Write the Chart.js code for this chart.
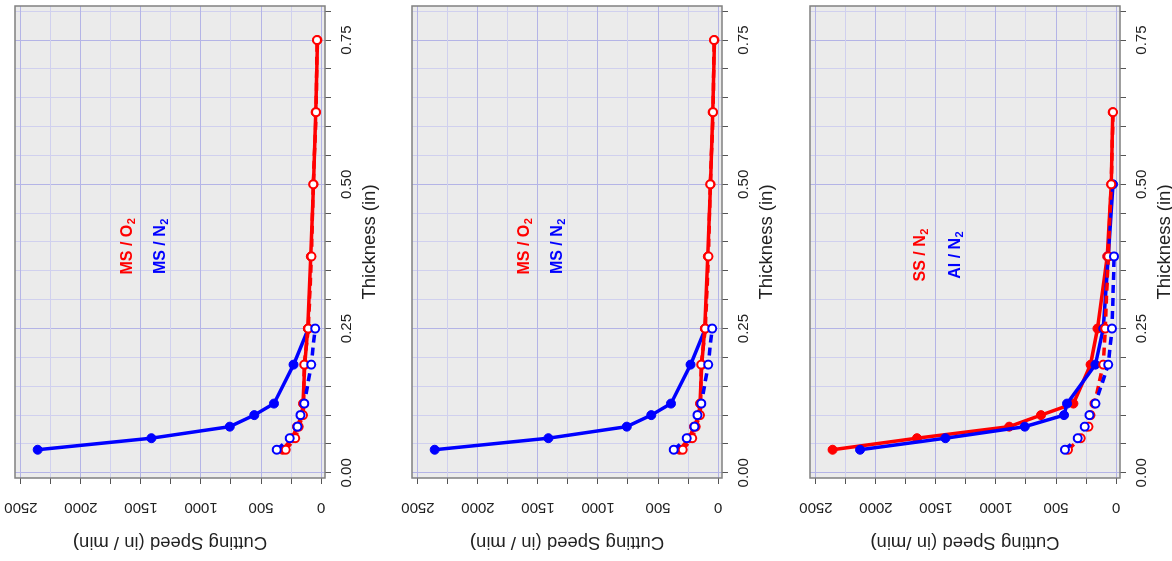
<!DOCTYPE html>
<html>
<head>
<meta charset="utf-8">
<script src="https://cdn.jsdelivr.net/npm/chart.js@4.4.0/dist/chart.umd.min.js"></script>
<style>
  html, body { margin: 0; padding: 0; background: #fff; width: 1172px; height: 561px; overflow: hidden; }
  canvas { position: absolute; left: 0; top: 0; transform-origin: 0 0; }
</style>
</head>
<body>
<canvas id="panel1" width="561" height="397" style="transform: translate(0px, 561px) rotate(-90deg);"></canvas>
<canvas id="panel2" width="561" height="397" style="transform: translate(397px, 561px) rotate(-90deg);"></canvas>
<canvas id="panel3" width="561" height="397" style="transform: translate(795px, 561px) rotate(-90deg);"></canvas>
<script>
// sheet thickness (in)
const thickness = [0.04, 0.06, 0.08, 0.10, 0.12, 0.1875, 0.25, 0.375, 0.5, 0.625, 0.75];

// mild steel (panels 1 and 2), cutting speed in / min
const msN2Fast = [2360, 1413, 760, 556, 392, 229, 106];
const msN2Slow = [368, 261, 196, 172, 139, 82, 49];
const msO2Fast = [320, 240, 200, 160, 150, 135, 110, 85, 62, 45, 30];
const msO2Slow = [294, 215, 185, 150, 145, 140, 106, 80, 65, 41, 33];

// stainless / aluminium (panel 3)
const ssN2Fast = [2361, 1658, 890, 625, 355, 212, 155, 74, 40, 28];
const ssN2Slow = [400, 294, 229, 212, 180, 106, 90, 65, 40, 25];
const alN2Fast = [2132, 1421, 760, 433, 408, 172, 106, 65, 25];
const alN2Slow = [425, 319, 261, 221, 172, 65, 33, 16];

const RED = "#ff0000";
const BLUE = "#0000ff";

Chart.defaults.font.family = '"Liberation Sans", Arial, sans-serif';
Chart.defaults.color = "#222";

function toPoints(values) {
  return values.map((v, i) => ({ x: thickness[i], y: v }));
}

function solidSet(values, color) {
  return {
    data: toPoints(values),
    borderColor: color,
    backgroundColor: color,
    borderWidth: 3.5,
    pointRadius: 4.5,
    pointBackgroundColor: color,
    pointBorderColor: color,
    pointBorderWidth: 1,
    tension: 0,
  };
}

function dashedSet(values, color) {
  return {
    data: toPoints(values),
    borderColor: color,
    backgroundColor: "#fff",
    borderWidth: 3.5,
    borderDash: [8, 5],
    pointRadius: 4,
    pointBackgroundColor: "#fff",
    pointBorderColor: color,
    pointBorderWidth: 2,
    tension: 0,
  };
}

function isMultiple(v, step) {
  const r = v / step;
  return Math.abs(r - Math.round(r)) < 1e-6;
}

// grey plot region, frame and the two coloured labels
const plotFrame = {
  id: "plotFrame",
  beforeDraw(chart) {
    const { ctx, chartArea: a } = chart;
    ctx.save();
    ctx.fillStyle = "#ebebeb";
    ctx.fillRect(a.left, a.top, a.width, a.height);
    ctx.restore();
  },
  afterDatasetsDraw(chart, args, opts) {
    const { ctx, chartArea: a, scales } = chart;
    ctx.save();
    ctx.strokeStyle = "#808080";
    ctx.lineWidth = 1.5;
    ctx.strokeRect(a.left, a.top, a.width, a.height);
    (opts.labels || []).forEach((lab) => {
      const big = "bold 16px 'Liberation Sans', Arial, sans-serif";
      const small = "bold 11px 'Liberation Sans', Arial, sans-serif";
      ctx.font = big;
      const w1 = ctx.measureText(lab.text).width;
      ctx.font = small;
      const w2 = ctx.measureText(lab.sub).width;
      const cx = scales.x.getPixelForValue(lab.x);
      const cy = scales.y.getPixelForValue(lab.y);
      const x0 = cx - (w1 + w2) / 2;
      ctx.fillStyle = lab.color;
      ctx.textBaseline = "alphabetic";
      ctx.textAlign = "left";
      ctx.font = big;
      ctx.fillText(lab.text, x0, cy + 6);
      ctx.font = small;
      ctx.fillText(lab.sub, x0 + w1 + 0.5, cy + 9);
    });
    ctx.restore();
  },
};

function buildPanel(id, datasets, labels, yTitle) {
  const ctx = document.getElementById(id).getContext("2d");
  return new Chart(ctx, {
    type: "line",
    data: { datasets: datasets },
    options: {
      responsive: false,
      maintainAspectRatio: false,
      animation: false,
      layout: { padding: { top: 9, right: 3, left: 0, bottom: 0 } },
      plugins: {
        legend: { display: false },
        tooltip: { enabled: false },
        plotFrame: { labels: labels },
      },
      scales: {
        x: {
          type: "linear",
          position: "bottom",
          min: -0.009,
          max: 0.809,
          afterFit: (scale) => { scale.height = 72; },
          ticks: {
            stepSize: 0.05,
            includeBounds: false,
            autoSkip: false,
            minRotation: 0,
            maxRotation: 0,
            padding: 7,
            font: { size: 15 },
            callback: (v) => (isMultiple(v, 0.25) ? v.toFixed(2) : ""),
          },
          grid: {
            color: (c) => (c.tick && isMultiple(c.tick.value, 0.25) ? "#b4b4e6" : "#d0d0ee"),
            lineWidth: 1,
            tickLength: 6,
            tickColor: "#555",
          },
          border: { display: false },
          title: {
            display: true,
            text: "Thickness (in)",
            font: { size: 18.5 },
            padding: { top: 0, bottom: 16 },
          },
        },
        y: {
          type: "linear",
          position: "left",
          min: -33,
          max: 2549,
          afterFit: (scale) => { scale.width = 83; },
          ticks: {
            stepSize: 250,
            includeBounds: false,
            autoSkip: false,
            minRotation: 90,
            maxRotation: 90,
            crossAlign: "center",
            padding: 6,
            font: { size: 15 },
            callback: (v) => (isMultiple(v, 500) ? String(v) : ""),
          },
          grid: {
            color: (c) => (c.tick && isMultiple(c.tick.value, 500) ? "#b4b4e6" : "#d0d0ee"),
            lineWidth: 1,
            tickLength: 6,
            tickColor: "#555",
          },
          border: { display: false },
          title: {
            display: true,
            text: yTitle,
            font: { size: 18.5 },
            padding: { top: 8, bottom: 0 },
          },
        },
      },
    },
    plugins: [plotFrame],
  });
}

const msLabels = [
  { text: "MS / O", sub: "2", color: RED, x: 0.392, y: 1626 },
  { text: "MS / N", sub: "2", color: BLUE, x: 0.392, y: 1348 },
];

// first dataset is drawn on top
buildPanel("panel1", [
  dashedSet(msN2Slow, BLUE),
  dashedSet(msO2Slow, RED),
  solidSet(msO2Fast, RED),
  solidSet(msN2Fast, BLUE),
], msLabels, "Cutting Speed (in / min)");

buildPanel("panel2", [
  dashedSet(msN2Slow, BLUE),
  dashedSet(msO2Slow, RED),
  solidSet(msO2Fast, RED),
  solidSet(msN2Fast, BLUE),
], msLabels, "Cutting Speed (in / min)");

buildPanel("panel3", [
  dashedSet(alN2Slow, BLUE),
  dashedSet(ssN2Slow, RED),
  solidSet(alN2Fast, BLUE),
  solidSet(ssN2Fast, RED),
], [
  { text: "SS / N", sub: "2", color: RED, x: 0.377, y: 1642 },
  { text: "Al / N", sub: "2", color: BLUE, x: 0.377, y: 1348 },
], "Cutting Speed (in /min)");
</script>
</body>
</html>
